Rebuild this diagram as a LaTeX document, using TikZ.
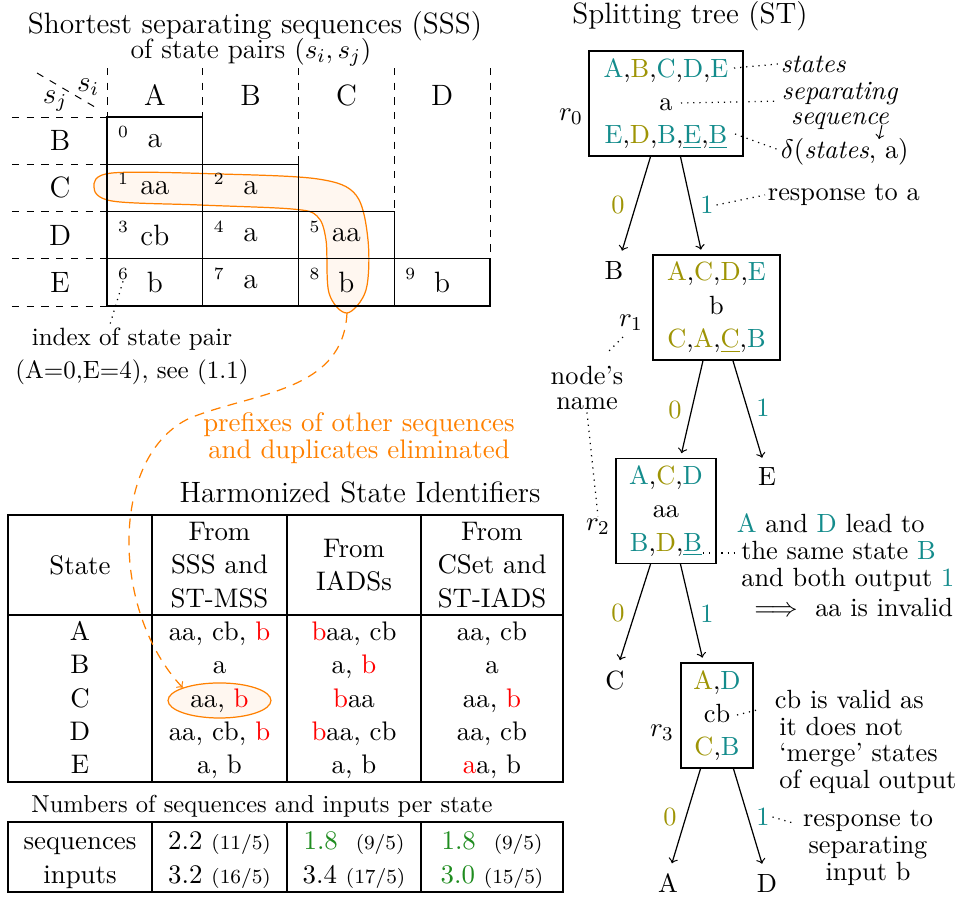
\documentclass[tikz,border=0pt]{standalone}
\usetikzlibrary{shapes.geometric}
\definecolor{tealc}{rgb}{0.08,0.55,0.55}
\definecolor{olivec}{rgb}{0.62,0.58,0.02}
\definecolor{greenc}{rgb}{0.12,0.55,0.12}
\definecolor{orangec}{rgb}{1,0.5,0}
\newcommand{\mkT}[1]{\textcolor{tealc}{#1}}
\newcommand{\mkO}[1]{\textcolor{olivec}{#1}}
\newcommand{\mkR}[1]{\textcolor{red}{#1}}
\newcommand{\mkG}[1]{\textcolor{greenc}{#1}}
\newcommand{\uT}[1]{\textcolor{tealc}{\underline{#1}}}
\newcommand{\uO}[1]{\textcolor{olivec}{\underline{#1}}}
\newcommand{\frc}[1]{{\fontsize{8.2}{10}\selectfont #1}}
\begin{document}
\begin{tikzpicture}[x=0.408pt,y=-0.408pt,
  every node/.style={inner sep=1pt},
  ssscell/.style={draw, line width=0.5pt, minimum width=39.07pt, minimum height=19.28pt, inner sep=0pt, font=\large},
  idx/.style={font=\scriptsize, inner sep=0.5pt},
  tcell/.style={align=center, font=\fontsize{10.95}{13.6}\selectfont},
  tval/.style={anchor=base, font=\fontsize{10.95}{13.6}\selectfont},
  tabline/.style={line width=0.5pt},
  tbox/.style={draw, line width=0.5pt, align=center, minimum height=42.8pt, inner sep=0pt, font=\fontsize{10.75}{13.6}\selectfont},
  leafnode/.style={font=\fontsize{10.75}{13}\selectfont, inner sep=4pt},
  treearrow/.style={->, line width=0.5pt},
  elab/.style={font=\fontsize{10.75}{13}\selectfont},
  ann/.style={font=\fontsize{10.75}{13}\selectfont},
  dotline/.style={dotted, line width=0.5pt},
]
\useasboundingbox (0,0) rectangle (956,898);

% ---------------- SSS table ----------------
\node[font=\large, anchor=base] (sssT1) at (255,33) {Shortest separating sequences (SSS)};
\node[font=\fontsize{11.3}{13}\selectfont, anchor=base] (sssT2) at (251,58) {of state pairs $(s_i, s_j)$};

\draw[orangec, line width=0.5pt, fill=orangec!6] plot[smooth cycle, tension=0.55] coordinates {(94,187) (112,173) (220,174) (318,179) (356,195) (368,240) (366,290) (347,313) (329,293) (326,240) (317,216) (292,209) (200,205) (112,201)};
\coordinate (hlbot) at (347,313);

\draw[dashed] (37,73) -- (100,110);
\node[font=\large] (si) at (88,87) {$s_i$};
\node[font=\large] (sj) at (55,101) {$s_j$};

\draw[dashed] (107,68) -- (107,117);
\draw[dashed] (202.75,68) -- (202.75,117);
\draw[dashed] (298.5,68) -- (298.5,164.25);
\draw[dashed] (394.25,68) -- (394.25,211.5);
\draw[dashed] (490,68) -- (490,258.75);
\foreach \y in {117,164.25,211.5,258.75,306} \draw[dashed] (12,\y) -- (107,\y);

\foreach \l/\x in {A/154.9,B/250.6,C/346.4,D/442.1} \node[font=\large] (h\l) at (\x,95) {\l};
\foreach \l/\y in {B/140.6,C/187.9,D/235.1,E/282.4} \node[font=\large] (v\l) at (60,\y) {\l};

\foreach \c/\r/\i/\v in {0/0/0/a, 0/1/1/aa, 1/1/2/a, 0/2/3/cb, 1/2/4/a, 2/2/5/aa, 0/3/6/b, 1/3/7/a, 2/3/8/b, 3/3/9/b} {
  \node[ssscell] (c\i) at ({107+95.75*(\c+0.5)},{117+47.25*(\r+0.5)}) {\v};
  \node[idx] (n\i) at ({107+95.75*\c+16},{117+47.25*\r+15}) {\i};
}

\node[align=center, font=\fontsize{10.2}{13.5}\selectfont] (idxlab) at (132,356) {index of state pair\\(A=0,E=4), see (1.1)};
\draw[dotline] (n6.south) -- ([xshift=-9pt]idxlab.north);

\node[align=center, text=orangec, font=\fontsize{10.95}{10.9}\selectfont] (prefx) at (359,438) {prefixes of other sequences\\and duplicates eliminated};

% ---------------- Harmonized table ----------------
\node[font=\large] (hsiT) at (360,492) {Harmonized State Identifiers};
\draw[tabline] (8,515) rectangle (563,782);
\draw[tabline] (8,615) -- (563,615);
\foreach \x in {152,287,421} \draw[tabline] (\x,515) -- (\x,782);
\node[tcell] (hS) at (80,565) {State};
\node[tcell] (hF1) at (219.5,565) {From\\SSS and\\ST-MSS};
\node[tcell] (hF2) at (354,565) {From\\IADSs};
\node[tcell] (hF3) at (492,565) {From\\CSet and\\ST-IADS};

\node[tval] (sA) at (80,640.4) {A};
\node[tval] (sA1) at (219.5,640.4) {aa, cb, \mkR{b}};
\node[tval] (sA2) at (354,640.4) {\mkR{b}aa, cb};
\node[tval] (sA3) at (492,640.4) {aa, cb};
\node[tval] (sB) at (80,673.9) {B};
\node[tval] (sB1) at (219.5,673.9) {a};
\node[tval] (sB2) at (354,673.9) {a, \mkR{b}};
\node[tval] (sB3) at (492,673.9) {a};
\node[tval] (sC) at (80,707.2) {C};
\node[tval, ellipse, draw=orangec, line width=0.5pt, fill=orangec!6, minimum width=42pt, minimum height=14.3pt, inner sep=0pt] (hC) at (219.5,707.2) {aa, \mkR{b}};
\node[tval] (sC2) at (354,707.2) {\mkR{b}aa};
\node[tval] (sC3) at (492,707.2) {aa, \mkR{b}};
\node[tval] (sD) at (80,740.4) {D};
\node[tval] (sD1) at (219.5,740.4) {aa, cb, \mkR{b}};
\node[tval] (sD2) at (354,740.4) {\mkR{b}aa, cb};
\node[tval] (sD3) at (492,740.4) {aa, cb};
\node[tval] (sE) at (80,773.7) {E};
\node[tval] (sE1) at (219.5,773.7) {a, b};
\node[tval] (sE2) at (354,773.7) {a, b};
\node[tval] (sE3) at (492,773.7) {\mkR{a}a, b};

\draw[orangec, line width=0.5pt, dash pattern=on 4pt off 3pt, ->] (hlbot) .. controls (343,392) and (255,392) .. (190,418) .. controls (110,455) and (110,610) .. (hC.north west);

% ---------------- Numbers table ----------------
\node (numT) at (262,806) {Numbers of sequences and inputs per state};
\draw[tabline] (8,822) rectangle (563,892);
\foreach \x in {152,287,421} \draw[tabline] (\x,822) -- (\x,892);
\node[tval] (q0) at (80,849) {sequences};
\node[tval] (q1) at (219.5,849) {2.2 \frc{(11/5)}};
\node[tval] (q2) at (354,849) {\mkG{1.8}\ \ \frc{(9/5)}};
\node[tval] (q3) at (492,849) {\mkG{1.8}\ \ \frc{(9/5)}};
\node[tval] (p0) at (80,883) {inputs};
\node[tval] (p1) at (219.5,883) {3.2 \frc{(16/5)}};
\node[tval] (p2) at (354,883) {3.4 \frc{(17/5)}};
\node[tval] (p3) at (492,883) {\mkG{3.0} \frc{(15/5)}};

% ---------------- Splitting tree ----------------
\node[font=\large] (stT) at (690,16) {Splitting tree (ST)};

\node[tbox, minimum width=62.8pt] (r0) at (666,103.5) {\mkT{A},\mkO{B},\mkT{C},\mkT{D},\mkT{E}\\a\\\mkT{E},\mkO{D},\mkT{B},\uT{E},\uT{B}};
\node[tbox, minimum width=51.8pt] (r1) at (716.5,307.5) {\mkO{A},\mkO{C},\mkO{D},\mkT{E}\\b\\\mkO{C},\mkO{A},\uO{C},\mkT{B}};
\node[tbox, minimum width=40.8pt] (r2) at (666,511) {\mkT{A},\mkO{C},\mkT{D}\\aa\\\mkT{B},\mkO{D},\uT{B}};
\node[tbox, minimum width=29.4pt] (r3) at (717,715.5) {\mkO{A},\mkT{D}\\cb\\\mkO{C},\mkT{B}};

\node[elab] (r0n) at (571,117) {$r_0$};
\node[elab] (r1n) at (631,323) {$r_1$};
\node[elab] (r2n) at (598,527) {$r_2$};
\node[elab] (r3n) at (662,733) {$r_3$};

\node[leafnode] (lB) at (614,270) {B};
\node[leafnode] (lE) at (767,477) {E};
\node[leafnode] (lC) at (615,680) {C};
\node[leafnode] (lA) at (668,883) {A};
\node[leafnode] (lD) at (767,883) {D};

\draw[treearrow] ([xshift=-6.3pt]r0.south) -- ([xshift=3.3pt]lB.north);
\draw[treearrow, shorten >=2pt] ([xshift=5.9pt]r0.south) -- ([xshift=-5.9pt]r1.north);
\draw[treearrow, shorten >=2pt] ([xshift=-5.5pt]r1.south) -- ([xshift=5.9pt]r2.north);
\draw[treearrow] ([xshift=6.7pt]r1.south) -- ([xshift=-2pt]lE.north);
\draw[treearrow] ([xshift=-6.3pt]r2.south) -- ([xshift=2pt]lC.north);
\draw[treearrow, shorten >=2pt] ([xshift=5.9pt]r2.south) -- ([xshift=-5.5pt]r3.north);
\draw[treearrow] ([xshift=-6.7pt]r3.south) -- ([xshift=1.6pt]lA.north);
\draw[treearrow] ([xshift=6.7pt]r3.south) -- ([xshift=-2pt]lD.north);

\node[elab, text=olivec] (e00) at (618,205) {0};
\node[elab, text=tealc] (e01) at (707,205) {1};
\node[elab, text=olivec] (e10) at (675,410) {0};
\node[elab, text=tealc] (e11) at (763,408) {1};
\node[elab, text=olivec] (e20) at (618,613) {0};
\node[elab, text=tealc] (e21) at (707,614) {1};
\node[elab, text=olivec] (e30) at (670,817) {0};
\node[elab, text=tealc] (e31) at (763,817) {1};

% annotations
\node[ann, anchor=west] (aSt) at (778,64) {\textit{states}};
\node[ann, align=center, font=\fontsize{10.75}{10.5}\selectfont] (aSep) at (840,106) {\textit{separating}\\\textit{sequence}};
\node[ann, anchor=west] (aDel) at (778,152) {$\delta($\textit{states}, a$)$};
\coordinate (r0l1) at (734,68);
\coordinate (r0l2) at (681,103);
\coordinate (r0l3) at (735,134);
\draw[dotline] (r0l1) -- (aSt.west);
\draw[dotline] (r0l2) -- ([yshift=2pt]aSep.west);
\draw[dotline] (r0l3) -- ([yshift=1pt]aDel.west);
\coordinate (seqA) at (882,125);
\coordinate (seqB) at (879,139);
\draw[->, line width=0.4pt] (seqA) -- (seqB);

\node[ann, anchor=west] (aResp) at (765,195) {response to a};
\draw[dotline] (e01.east) -- (aResp.west);

\node[ann, align=center, font=\fontsize{10.75}{10}\selectfont] (aName) at (587,388) {node's\\name};
\coordinate (nm1) at (623,337);
\coordinate (nm2) at (608,352);
\draw[dotline] (nm1) -- (nm2);
\draw[dotline] (aName.south) -- (r2n.north);

\node[ann, align=left, anchor=west, font=\fontsize{10.75}{11.1}\selectfont] (aAD) at (734,565) {\mkT{A} and \mkT{D} lead to\\\,the same state \mkT{B}\\\,and both output \mkT{1}\\[1.2pt]\ \ $\Longrightarrow$\ \ aa is invalid};
\coordinate (r2l3) at (703,553);
\draw[dotline] (r2l3) -- (aAD.west |- r2l3);

\node[ann, align=left, anchor=west, font=\fontsize{10.75}{10.9}\selectfont] (aCB) at (772,742) {cb is valid as\\\,it does not\\\,`merge' states\\\,of equal output};
\coordinate (r3l2) at (737,715);
\coordinate (cbann) at (757,710);
\draw[dotline] (r3l2) -- (cbann);

\node[ann, align=center, font=\fontsize{10.75}{10.9}\selectfont] (aRB) at (868,848) {response to\\separating\\input b};
\coordinate (rbE) at (793,823);
\draw[dotline] (e31.east) -- (rbE);
\end{tikzpicture}
\end{document}
